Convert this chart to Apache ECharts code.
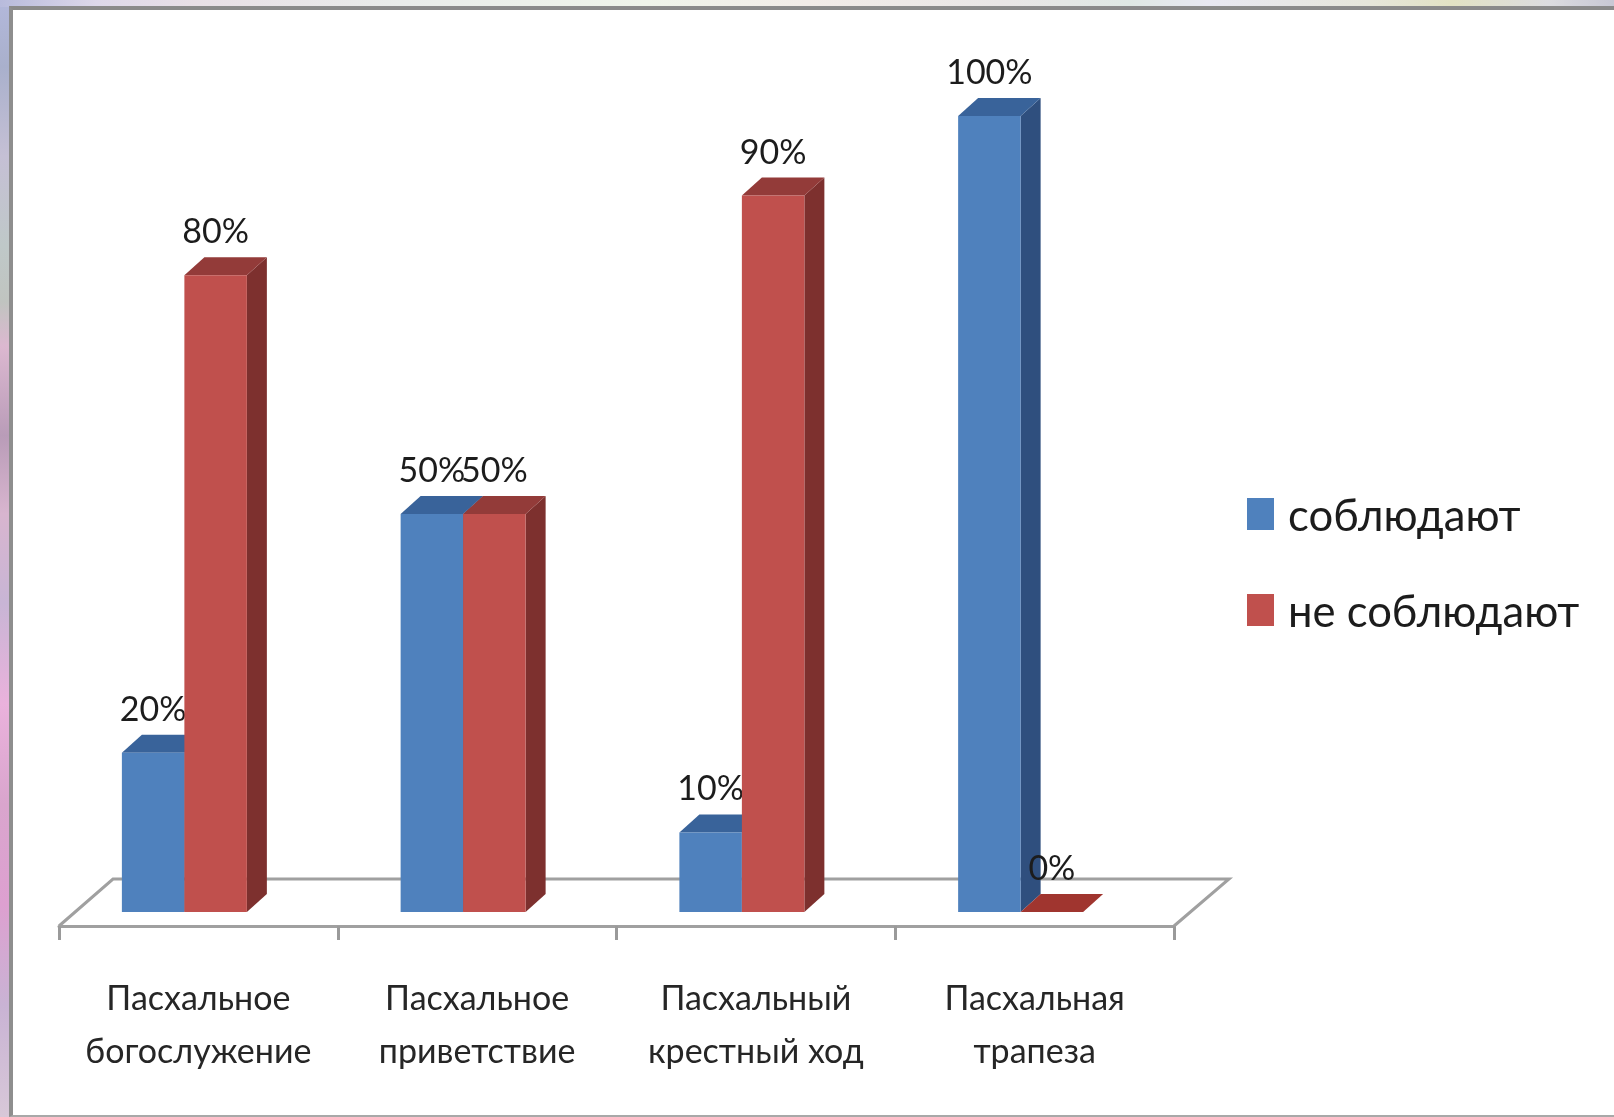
<!DOCTYPE html>
<html><head><meta charset="utf-8">
<script src="https://cdn.jsdelivr.net/npm/echarts@6/dist/echarts.min.js"></script>
<style>
html,body{margin:0;padding:0;width:1614px;height:1117px;overflow:hidden}
#bg{position:absolute;inset:0;background:
 linear-gradient(90deg,#b8bbdc 0,#ddd8ea 6%,#e8dfe6 12%,#e9ecea 25%,#eff4ea 40%,#f2ece8 50%,#e9e6e6 62%,#dfe8e4 70%,#e8e8f2 75%,#e6e6da 85%,#e2e2c4 90%,#dcdce0 96%,#c8c8d4 100%) 0 0/100% 7px no-repeat,
 linear-gradient(180deg,#b3b8db 0,#a9b0cc 6%,#c5c0d5 14%,#bfc8c8 22%,#c0c4c0 27%,#dcb8d0 31%,#b99cb8 39%,#d8b5cf 46%,#c8b5d5 54%,#eab2dc 63%,#d9a5cd 72%,#dda0d0 81%,#c9b3d4 90%,#d8c8d8 100%)}
#panel{position:absolute;left:9px;top:6px;right:0;bottom:0;box-sizing:border-box;background:#fff;border-left:4px solid #8e8e8e;border-top:4px solid #8a8a8a;border-bottom:2px solid #a8a8a8}
#chart{position:absolute;left:0;top:0;width:1614px;height:1117px}
</style></head><body>
<div id="bg"></div><div id="panel"></div><div id="chart"></div>
<script>
const categories=['Пасхальное\nбогослужение','Пасхальное\nприветствие','Пасхальный\nкрестный ход','Пасхальная\nтрапеза'];
const observe=[20,50,10,100];
const notObserve=[80,50,90,0];
const seriesNames=['соблюдают','не соблюдают'];
const FONT='Lato,"Liberation Sans",sans-serif';
const faces=[{front:'#4f81bd',top:'#39639a',side:'#2f4f7e'},{front:'#c0504d',top:'#933b39',side:'#7d302e'}];
const DX=20,DY=18,BAR=0.2242;
function barRender(idx){
  return function(params,api){
    const v=api.value(1),c=faces[idx];
    const base=api.coord([api.value(0),0]),top=api.coord([api.value(0),v]);
    const w=api.size([1,0])[0]*BAR;
    const x0=base[0]+(idx===0?-w:0),x1=x0+w,y0=base[1],y1=top[1];
    const kids=[];
    if(v>0){
      kids.push({type:'polygon',shape:{points:[[x1,y1],[x1+DX,y1-DY],[x1+DX,y0-DY],[x1,y0]]},style:{fill:c.side}});
    }
    kids.push({type:'polygon',shape:{points:[[x0,y1],[x0+DX,y1-DY],[x1+DX,y1-DY],[x1,y1]]},style:{fill:v>0?c.top:'#a0352f'}});
    if(v>0){
      kids.push({type:'rect',shape:{x:x0,y:y1,width:w,height:y0-y1},style:{fill:c.front}});
    }
    kids.push({type:'text',style:{text:v+'%',x:(x0+x1)/2,y:y1-43,align:'center',verticalAlign:'middle',font:'34px '+FONT,fill:'#1c1c1c'}});
    return {type:'group',children:kids};
  };
}
function floorRender(params,api){
  const s=params.coordSys,b=s.y+s.height,r=s.x+s.width;
  return {type:'polyline',shape:{points:[[s.x,b],[s.x+54,b-47],[r+55,b-47],[r,b]]},style:{fill:'none',stroke:'#a0a0a0',lineWidth:3}};
}
const chart=echarts.init(document.getElementById('chart'),null,{renderer:'canvas',width:1614,height:1117});
chart.setOption({
  animation:false,backgroundColor:'transparent',
  grid:[{left:59,width:1115,top:116,height:810},{left:45,width:1115,top:116,height:796}],
  xAxis:[
    {type:'category',gridIndex:0,data:categories,
     axisLine:{lineStyle:{color:'#a0a0a0',width:3}},
     axisTick:{show:true,length:14,lineStyle:{color:'#9a9a9a',width:3}},
     axisLabel:{color:'#262626',fontFamily:FONT,fontSize:34,lineHeight:53,margin:47,interval:0}},
    {type:'category',gridIndex:1,data:categories,show:false}
  ],
  yAxis:[
    {type:'value',gridIndex:0,show:false,min:0,max:100},
    {type:'value',gridIndex:1,show:false,min:0,max:100,interval:20}
  ],
  legend:{orient:'vertical',left:1247,top:489,padding:0,itemWidth:27,itemHeight:32,itemGap:46,icon:'rect',
    data:seriesNames,formatter:n=>'{a|'+n+'}',
    textStyle:{rich:{a:{fontFamily:FONT,fontSize:43.6,color:'#1c1c1c',lineHeight:40,padding:[6,0,0,9]}}}},
  tooltip:{show:false},
  series:[
    {type:'custom',xAxisIndex:0,yAxisIndex:0,silent:true,renderItem:floorRender,data:[[0,0]],z:1},
    {type:'custom',name:seriesNames[0],xAxisIndex:1,yAxisIndex:1,clip:false,z:2,itemStyle:{color:'#4f81bd'},
     renderItem:barRender(0),encode:{x:0,y:1},data:observe.map((v,i)=>[i,v])},
    {type:'custom',name:seriesNames[1],xAxisIndex:1,yAxisIndex:1,clip:false,z:3,itemStyle:{color:'#c0504d'},
     renderItem:barRender(1),encode:{x:0,y:1},data:notObserve.map((v,i)=>[i,v])}
  ]
});
</script></body></html>
